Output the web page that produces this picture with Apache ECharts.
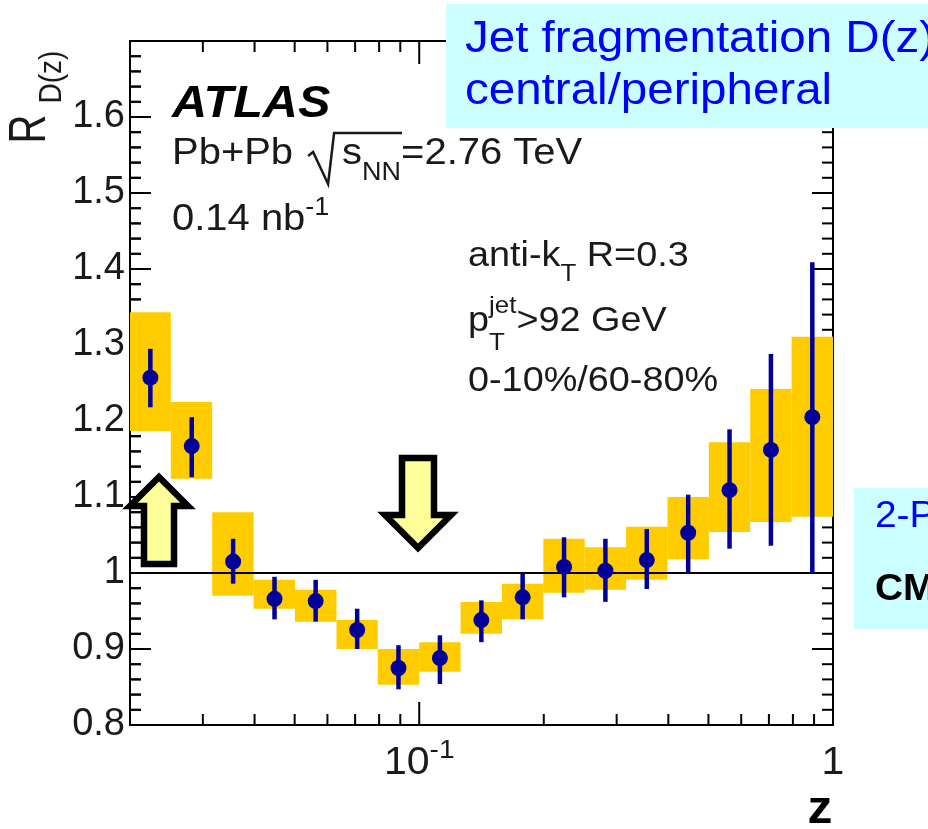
<!DOCTYPE html>
<html>
<head>
<meta charset="utf-8">
<script src="https://cdn.jsdelivr.net/npm/echarts@6/dist/echarts.min.js"></script>
<style>
  html, body { margin: 0; padding: 0; background: #fff; }
  #c { width: 928px; height: 829px; }
</style>
</head>
<body>
<div id="c"></div>
<script>
// Bin edges in z (log-spaced, 10 bins per decade) and the bin centres
const zEdges = [0.0200, 0.0251, 0.0316, 0.0398, 0.0501, 0.0631, 0.0794, 0.1000, 0.1259,
                0.1585, 0.1995, 0.2512, 0.3162, 0.3981, 0.5012, 0.6310, 0.7943, 1.0000];
const zCenters = [0.0224, 0.0282, 0.0355, 0.0447, 0.0562, 0.0708, 0.0891, 0.1122, 0.1413,
                  0.1778, 0.2239, 0.2818, 0.3548, 0.4467, 0.5623, 0.7079, 0.8913];
// R_D(z): central (0-10%) / peripheral (60-80%)
const ratio  = [1.257, 1.167, 1.015, 0.966, 0.963, 0.925, 0.875, 0.888, 0.938,
                0.968, 1.008, 1.003, 1.017, 1.053, 1.109, 1.162, 1.205];
// statistical error bar limits
const statLo = [1.218, 1.126, 0.986, 0.939, 0.936, 0.900, 0.847, 0.854, 0.909,
                0.939, 0.968, 0.962, 0.979, 1.000, 1.032, 1.036, 1.000];
const statHi = [1.295, 1.205, 1.045, 0.995, 0.991, 0.953, 0.905, 0.918, 0.964,
                1.000, 1.047, 1.045, 1.058, 1.103, 1.189, 1.288, 1.409];
// systematic uncertainty band limits
const sysLo  = [1.187, 1.124, 0.970, 0.953, 0.936, 0.900, 0.853, 0.870, 0.920,
                0.939, 0.974, 0.978, 0.991, 1.018, 1.054, 1.067, 1.074];
const sysHi  = [1.343, 1.225, 1.080, 0.991, 0.978, 0.938, 0.900, 0.909, 0.962,
                0.986, 1.045, 1.034, 1.061, 1.100, 1.172, 1.242, 1.311];
// reference line at unity
const unityLine = [[0.02, 1], [1, 1]];
// axis ranges and ticks
const xRange = [0.02, 1];
const yRange = [0.8, 1.7];
const xMajorTicks = [0.1, 1];
const xMinorTicks = [0.03, 0.04, 0.05, 0.06, 0.07, 0.08, 0.09, 0.2, 0.3, 0.4, 0.5, 0.6, 0.7, 0.8, 0.9];
const yMajorTicks = [0.8, 0.9, 1.0, 1.1, 1.2, 1.3, 1.4, 1.5, 1.6, 1.7];
const yMinorTicks = [0.82, 0.84, 0.86, 0.88, 0.92, 0.94, 0.96, 0.98, 1.02, 1.04, 1.06, 1.08,
                     1.12, 1.14, 1.16, 1.18, 1.22, 1.24, 1.26, 1.28, 1.32, 1.34, 1.36, 1.38,
                     1.42, 1.44, 1.46, 1.48, 1.52, 1.54, 1.56, 1.58, 1.62, 1.64, 1.66, 1.68];
const xTickLabels = [{ v: 0.1, base: '10', sup: '-1' }, { v: 1, base: '1', sup: '' }];

const FONT = '"Liberation Sans", Arial, Helvetica, sans-serif';
const SX = 1.08;           // slight horizontal widening of the lettering
const BLUE = '#000099';

const chart = echarts.init(document.getElementById('c'), null, { renderer: 'canvas', width: 928, height: 829 });

function yAxisDef(position, labels) {
  return {
    type: 'value', min: yRange[0], max: yRange[1], interval: 0.1, position: position,
    axisLine: { show: true, onZero: false, lineStyle: { color: '#000', width: 2 } },
    axisTick: { show: false }, minorTick: { show: false },
    splitLine: { show: false }, minorSplitLine: { show: false },
    axisLabel: labels ? {
      show: true, margin: 5, fontSize: 38, fontFamily: FONT, color: '#1a1a1a',
      formatter: v => (Math.abs(v - 1.7) < 1e-6 ? '' : (Math.abs(v - 1) < 1e-6 ? '1' : v.toFixed(1)))
    } : { show: false }
  };
}

function tickLine(x1, y1, x2, y2) {
  return { type: 'line', shape: { x1: x1, y1: y1, x2: x2, y2: y2 }, style: { stroke: '#000', lineWidth: 2 } };
}

// the first uncertainty box sits on the left frame and hides the ticks it spans
const leftTickData = yMajorTicks.map(v => [0.1, v, 1]).concat(yMinorTicks.map(v => [0.1, v, 0]))
  .filter(d => !(d[1] > sysLo[0] && d[1] < sysHi[0]));

const option = {
  backgroundColor: '#fff',
  animation: false,
  grid: { left: 130, right: 95, top: 41, bottom: 104, show: true, borderColor: '#000', borderWidth: 2,
          backgroundColor: 'transparent', containLabel: false, outerBoundsMode: 'none' },
  xAxis: {
    type: 'log', logBase: 10, min: xRange[0], max: xRange[1],
    axisLine: { show: false, onZero: false }, axisTick: { show: false }, axisLabel: { show: false },
    splitLine: { show: false }, minorTick: { show: false }, minorSplitLine: { show: false }
  },
  yAxis: [yAxisDef('left', true), yAxisDef('right', false)],
  series: [
    // linear ticks on the right frame
    {
      type: 'custom', z: 50, clip: false,
      encode: { x: 0, y: 1 },
      data: yMajorTicks.map(v => [0.1, v, 1]).concat(yMinorTicks.map(v => [0.1, v, 0])),
      renderItem: (params, api) => {
        const v = api.value(1), major = api.value(2);
        const y = api.coord([0.1, v])[1];
        const cs = params.coordSys;
        const L = major ? 21 : 11;
        const x0 = cs.x + cs.width;
        return tickLine(x0, y, x0 - L, y);
      }
    },
    // linear ticks on the left frame, on their own layer
    {
      type: 'custom', zlevel: 1, z: 1, clip: false,
      encode: { x: 0, y: 1 },
      data: leftTickData,
      renderItem: (params, api) => {
        const v = api.value(1), major = api.value(2);
        const y = api.coord([0.1, v])[1];
        const cs = params.coordSys;
        const L = major ? 21 : 11;
        return tickLine(cs.x, y, cs.x + L, y);
      }
    },
    // log-axis ticks on the bottom and top frame
    {
      type: 'custom', z: 50, clip: false,
      encode: { x: 0, y: 1 },
      data: xMajorTicks.map(v => [v, 1, 1]).concat(xMinorTicks.map(v => [v, 1, 0])),
      renderItem: (params, api) => {
        const z = api.value(0), major = api.value(2);
        const b = api.coord([z, yRange[0]]), t = api.coord([z, yRange[1]]);
        const L = major ? 23 : 11;
        return { type: 'group', children: [tickLine(b[0], b[1], b[0], b[1] - L), tickLine(t[0], t[1], t[0], t[1] + L)] };
      }
    },
    // systematic uncertainty boxes
    {
      type: 'custom', z: 51,
      encode: { x: [0, 1], y: [2, 3] },
      data: ratio.map((_, i) => [zEdges[i], zEdges[i + 1], sysLo[i], sysHi[i]]),
      renderItem: (params, api) => {
        const p1 = api.coord([api.value(0), api.value(3)]);
        const p2 = api.coord([api.value(1), api.value(2)]);
        return { type: 'rect', shape: { x: p1[0], y: p1[1], width: p2[0] - p1[0], height: p2[1] - p1[1] },
                 style: { fill: '#ffcc00' } };
      }
    },
    // unity line
    {
      type: 'line', z: 52, data: unityLine, showSymbol: false,
      lineStyle: { color: '#000', width: 2 }
    },
    // statistical error bars
    {
      type: 'custom', z: 53,
      encode: { x: 0, y: [1, 2] },
      data: ratio.map((_, i) => [zCenters[i], statLo[i], statHi[i]]),
      renderItem: (params, api) => {
        const lo = api.coord([api.value(0), api.value(1)]);
        const hi = api.coord([api.value(0), api.value(2)]);
        return { type: 'line', shape: { x1: lo[0], y1: lo[1], x2: hi[0], y2: hi[1] },
                 style: { stroke: BLUE, lineWidth: 4.5 } };
      }
    },
    // measured points
    {
      type: 'scatter', z: 54, symbol: 'circle', symbolSize: 16,
      itemStyle: { color: BLUE, opacity: 1 },
      data: ratio.map((r, i) => [zCenters[i], r])
    }
  ]
};
chart.setOption(option);

// ---- lettering helpers ----
const mctx = document.createElement('canvas').getContext('2d');
function fontStr(p) { return (p.it ? 'italic ' : '') + (p.b ? 'bold ' : '') + p.s + 'px ' + FONT; }
function measure(t, f) { mctx.font = f; return mctx.measureText(t).width; }
function textEl(x, base, p, fill) {
  return {
    type: 'text', x: x, y: base - 0.3465 * p.s, scaleX: SX, z: 100, silent: true,
    style: { text: p.t, x: 0, y: 0, font: fontStr(p), fill: fill,
             align: 'left', verticalAlign: 'middle', textAlign: 'left', textVerticalAlign: 'middle' }
  };
}
// lays out a run of pieces (normal / sub / superscript) along one baseline;
// a piece flagged "stack" shares its x position with the next piece
function textRun(x, base, parts, opt) {
  opt = opt || {};
  const ws = parts.map(p => (p.stack ? 0 : measure(p.t, fontStr(p)) * SX));
  const total = ws.reduce((a, b) => a + b, 0);
  let cx = opt.align === 'center' ? x - total / 2 : x;
  const els = [];
  parts.forEach((p, i) => {
    els.push(textEl(cx, base + (p.dy || 0), p, p.c || opt.c || '#1a1a1a'));
    cx += ws[i];
  });
  return { els: els, end: cx };
}

const g = [];

// left-frame ticks again as graphic lines on the upper layer, placed through the axis scales
const leftX = chart.convertToPixel({ xAxisIndex: 0 }, xRange[0]);
leftTickData.forEach(d => {
  const py = chart.convertToPixel({ yAxisIndex: 0 }, d[1]);
  const L = d[2] ? 21 : 11;
  if (isFinite(leftX) && isFinite(py)) {
    g.push({ type: 'line', zlevel: 1, z: 5, silent: true, shape: { x1: leftX, y1: py, x2: leftX + L, y2: py },
             style: { stroke: '#000', lineWidth: 2 } });
  }
});

// cyan note boxes
g.push({ type: 'rect', z: 90, silent: true, shape: { x: 446, y: 4, width: 490, height: 124 }, style: { fill: '#ccffff' } });
g.push({ type: 'rect', z: 90, silent: true, shape: { x: 854, y: 488, width: 90, height: 141 }, style: { fill: '#ccffff' } });
g.push(...textRun(465, 55, [{ t: 'Jet fragmentation D(z)', s: 44 }], { c: '#0000ff' }).els);
g.push(...textRun(465, 107, [{ t: 'central/peripheral', s: 44 }], { c: '#0000ff' }).els);
g.push(...textRun(875, 530, [{ t: '2-PC', s: 36 }], { c: '#0000ff' }).els);
g.push(...textRun(875, 603, [{ t: 'CMS', s: 36, b: 1 }], { c: '#000' }).els);

// experiment labels
g.push(...textRun(172, 120, [{ t: 'ATLAS', s: 45, b: 1, it: 1 }], { c: '#000' }).els);
const pb = textRun(172, 167, [{ t: 'Pb+Pb', s: 37 }]);
g.push(...pb.els);
const e1 = pb.end;
const sRun = textRun(e1 + 49, 167, [
  { t: 's', s: 37 }, { t: 'NN', s: 25, dy: 15 }, { t: '=2.76 TeV', s: 37 }
]);
g.push(...sRun.els);
const nnEnd = e1 + 49 + (measure('s', fontStr({ s: 37 })) + measure('NN', fontStr({ s: 25 }))) * SX;
g.push({ type: 'polyline', z: 100, silent: true,
  shape: { points: [[e1 + 15, 156], [e1 + 20, 152], [e1 + 35, 184], [e1 + 41, 133], [nnEnd + 1, 133]] },
  style: { stroke: '#1a1a1a', lineWidth: 2.5, fill: null, lineJoin: 'miter' } });
g.push(...textRun(172, 233, [{ t: '0.14 nb', s: 37 }, { t: '-1', s: 25, dy: -16 }]).els);

g.push(...textRun(468, 268, [{ t: 'anti-k', s: 35 }, { t: 'T', s: 24, dy: 15 }, { t: ' R=0.3', s: 35 }]).els);
g.push(...textRun(468, 333, [
  { t: 'p', s: 35 }, { t: 'T', s: 24, dy: 19, stack: true }, { t: 'jet', s: 24, dy: -18 }, { t: '>92 GeV', s: 35 }
]).els);
g.push(...textRun(468, 393, [{ t: '0-10%/60-80%', s: 35 }]).els);

// highlight arrows, on the upper layer above the frame ticks
g.push({ type: 'polygon', zlevel: 1, z: 20, silent: true,
  shape: { points: [[159, 477], [130, 506], [144, 506], [144, 564], [174, 564], [174, 506], [188, 506]] },
  style: { fill: '#ffff99', stroke: '#000', lineWidth: 6.5, lineJoin: 'miter' } });
g.push({ type: 'polygon', zlevel: 1, z: 20, silent: true,
  shape: { points: [[402, 458], [434, 458], [434, 515], [451, 515], [418, 548], [385, 515], [402, 515]] },
  style: { fill: '#ffff99', stroke: '#000', lineWidth: 6.5, lineJoin: 'miter' } });

// x tick labels placed through the log axis
xTickLabels.forEach(l => {
  const px = chart.convertToPixel({ xAxisIndex: 0 }, l.v);
  const parts = [{ t: l.base, s: 38 }];
  if (l.sup) parts.push({ t: l.sup, s: 26, dy: -17 });
  g.push(...textRun(px, 777, parts, { align: 'center' }).els);
});
// axis titles
g.push(...textRun(820, 826, [{ t: 'z', s: 46, b: 1 }], { align: 'center', c: '#000' }).els);
g.push({ type: 'text', x: 31, y: 129, rotation: Math.PI / 2, scaleY: 1.3, z: 100, silent: true,
  style: { text: 'R', x: 0, y: 0, font: '40px ' + FONT, fill: '#1a1a1a', align: 'center', verticalAlign: 'middle',
           textAlign: 'center', textVerticalAlign: 'middle' } });
g.push({ type: 'text', x: 52, y: 77, rotation: Math.PI / 2, scaleY: 1.15, z: 100, silent: true,
  style: { text: 'D(z)', x: 0, y: 0, font: '28px ' + FONT, fill: '#1a1a1a', align: 'center', verticalAlign: 'middle',
           textAlign: 'center', textVerticalAlign: 'middle' } });

chart.setOption({ graphic: { elements: g } });
</script>
</body>
</html>
